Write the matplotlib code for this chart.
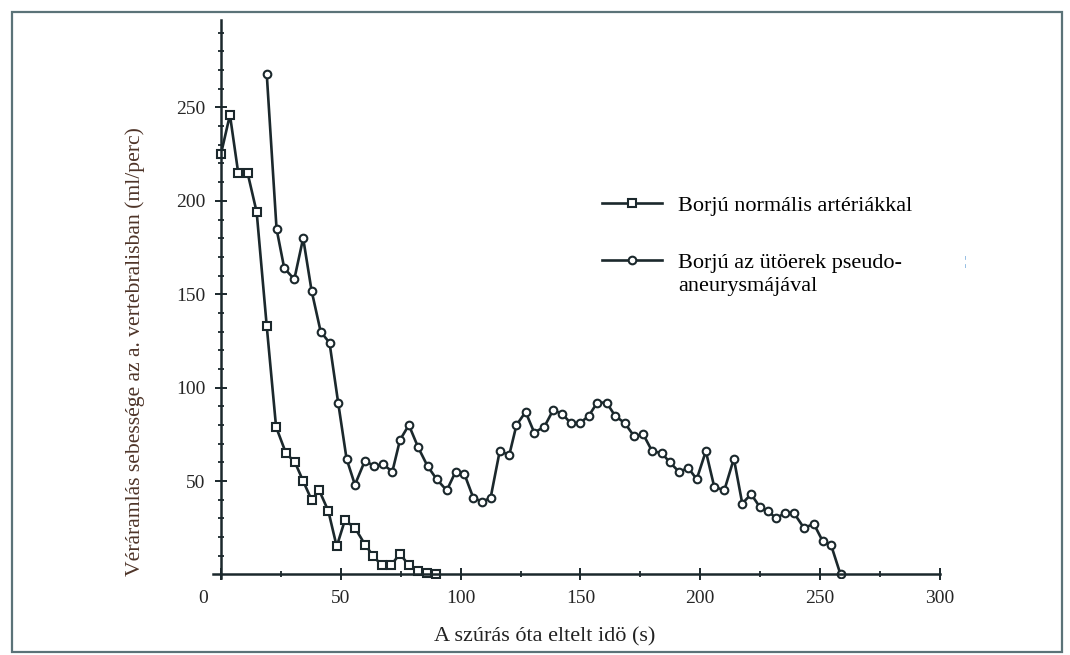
import matplotlib.pyplot as plt
from matplotlib.patches import Rectangle
from matplotlib.transforms import ScaledTranslation

# Borjú normális artériákkal (négyzet jelölő)
normal_t = [0, 3.75, 7.2, 11.1, 14.9, 19.1, 23.0, 27.1, 30.9, 34.3, 37.8, 41.0, 44.8,
            48.3, 51.7, 55.9, 60.1, 63.5, 67.0, 70.9, 74.7, 78.4, 82.3, 85.8, 89.6]
normal_v = [225, 246, 215, 215, 194, 133, 79, 65, 60, 50, 40, 45, 34,
            15, 29, 25, 16, 10, 5, 5, 11, 5, 2, 1, 0]

# Borjú az ütőerek pseudo-aneurysmájával (kör jelölő)
aneur_t = [19.1, 23.2, 26.4, 30.6, 34.3, 37.8, 41.6, 45.3, 48.9, 52.4,
           55.9, 60.1, 63.8, 67.7, 71.5, 74.7, 78.4, 82.3, 86.2, 90.0,
           94.2, 97.9, 101.5, 105.3, 109.0, 112.5, 116.3, 120.3, 123.3, 127.1,
           130.7, 134.9, 138.6, 142.4, 145.9, 149.8, 153.5, 157.0, 160.9, 164.4,
           168.5, 172.4, 176.2, 179.9, 183.9, 187.3, 191.1, 195.0, 198.5, 202.3,
           205.8, 210.0, 214.0, 217.5, 221.2, 224.9, 228.3, 231.6, 235.3, 239.0,
           243.2, 247.4, 251.0, 254.5, 258.5]
aneur_v = [268, 185, 164, 158, 180, 152, 130, 124, 92, 62,
           48, 61, 58, 59, 55, 72, 80, 68, 58, 51,
           45, 55, 54, 41, 39, 41, 66, 64, 80, 87,
           76, 79, 88, 86, 81, 81, 85, 92, 92, 85,
           81, 74, 75, 66, 65, 60, 55, 57, 51, 66,
           47, 45, 62, 38, 43, 36, 34, 30, 33, 33,
           25, 27, 18, 16, 0]

x_ticks = [0, 50, 100, 150, 200, 250, 300]
x_minor = [25, 75, 125, 175, 225, 275]
y_ticks = [50, 100, 150, 200, 250]
y_minor = [v for v in range(10, 300, 10) if v % 50 != 0]

plt.rcParams['font.family'] = ['Liberation Serif', 'DejaVu Serif']

ink = '#1b282c'
fig = plt.figure(figsize=(10.7, 6.55), dpi=100)
ax = fig.add_axes([0.1991, 0.1172, 0.6794, 0.8523])

ax.plot(normal_t, normal_v, color=ink, lw=1.9, marker='s', ms=5.5,
        mfc='white', mec=ink, mew=1.5, label='Borjú normális artériákkal')
ax.plot(aneur_t, aneur_v, color=ink, lw=1.9, marker='o', ms=5.5,
        mfc='white', mec=ink, mew=1.5, label='Borjú az ütöerek pseudo-')

ax.set_xlim(-3.3, 300)
ax.set_ylim(-2, 296.8)
for side in ['top', 'right']:
    ax.spines[side].set_visible(False)
for side in ['left', 'bottom']:
    ax.spines[side].set_position(('data', 0))
    ax.spines[side].set_linewidth(1.8)
    ax.spines[side].set_color(ink)

ax.set_xticks(x_ticks)
ax.set_xticks(x_minor, minor=True)
ax.set_yticks(y_ticks)
ax.set_yticks(y_minor, minor=True)
ax.tick_params(which='major', direction='inout', length=8, width=1.4, color=ink,
               labelsize=14, labelcolor='#262626', pad=7)
ax.tick_params(which='minor', direction='inout', length=5, width=1.3, color=ink)

# a "0" felirat balra tolva, mint az eredetin
lbl0 = ax.get_xticklabels()[0]
lbl0.set_transform(lbl0.get_transform() + ScaledTranslation(-0.18, 0, fig.dpi_scale_trans))

leg = ax.legend(loc='upper left', bbox_to_anchor=(602 / 1070, 1 - 195 / 655),
                bbox_transform=fig.transFigure, frameon=False, borderpad=0,
                borderaxespad=0, handlelength=2.7, handletextpad=0.7,
                labelspacing=1.66, fontsize=16, numpoints=1)
fig.text(678 / 1070, 1 - 287 / 655, 'aneurysmájával', fontsize=16,
         ha='left', va='center', color='black')

fig.text(545 / 1070, 1 - 637 / 655, 'A szúrás óta eltelt idö (s)', fontsize=16,
         ha='center', va='center', color='#222222')
fig.text(135 / 1070, 1 - 352 / 655, 'Véráramlás sebessége az a. vertebralisban (ml/perc)',
         fontsize=15.6, rotation=90, ha='center', va='center', color='#4e3428')

fig.text(965 / 1070, 1 - 262 / 655, '¦', fontsize=9, color='#5b9bd5',
         ha='center', va='center')

fig.add_artist(Rectangle((12 / 1070, 1 - 652 / 655), 1050 / 1070, 640 / 655,
                         transform=fig.transFigure, fill=False,
                         edgecolor='#5b7378', lw=1.6))

fig.savefig('out.png', dpi=100)
